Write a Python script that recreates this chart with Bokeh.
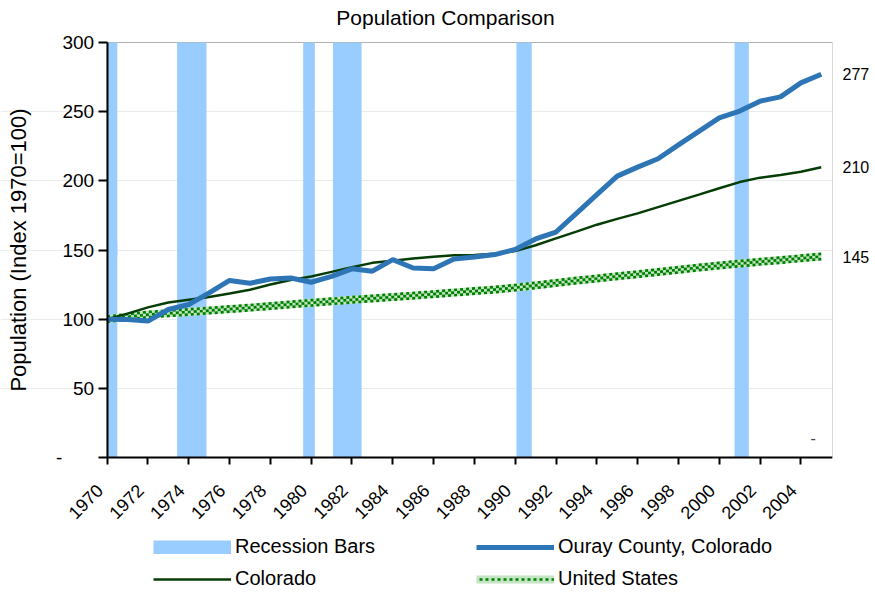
import math
from bokeh.plotting import figure
from bokeh.models import (Range1d, FixedTicker, LinearAxis, Legend, LegendItem,
                          NumeralTickFormatter, Label, BoxAnnotation)
from bokeh.embed import file_html
from bokeh.resources import INLINE

# ---------------- data ----------------
years = list(range(1970, 2006))
ouray = [100, 99.8, 98.6, 107, 110.6, 119, 128, 126, 129, 129.8,
         126.7, 131, 136.4, 134.7, 143, 137, 136.4, 143.5, 145, 146.7,
         150.4, 158, 163, 176.5, 190, 203.4, 209.9, 216, 226, 235.7,
         245.5, 250.4, 257.6, 260.7, 270.8, 277]
colorado = [100, 104, 108.5, 112, 114, 116, 118.5, 121.3, 125, 128.3,
            130.8, 134.2, 137.6, 140.7, 142.3, 143.9, 145.2, 146.2, 146.4, 147.3,
            149.2, 153.4, 158.4, 163.3, 168.3, 172.5, 176.5, 181, 185.5, 190,
            194.6, 199.1, 202.3, 204.2, 206.5, 209.8]
united_states = [100, 101.7, 103.3, 104.2, 105.2, 106.2, 107.3, 108.3, 109.5, 110.7,
                 111.8, 112.9, 114.0, 115.0, 116.0, 117.0, 118.1, 119.2, 120.3, 121.4,
                 122.8, 124.4, 126.2, 127.9, 129.4, 131.0, 132.5, 134.1, 135.7, 137.3,
                 138.8, 140.2, 141.5, 142.7, 144.0, 145.3]
recession_start = [1970.0, 1973.43, 1979.61, 1981.07, 1990.06, 2000.75]
recession_end = [1970.5, 1974.87, 1980.18, 1982.47, 1990.81, 2001.45]
x_tick_years = list(range(1970, 2005, 2))
y_ticks = [0, 50, 100, 150, 200, 250, 300]
end_values = [ouray[-1], colorado[-1], united_states[-1]]
legend_labels = ["Recession Bars", "Ouray County, Colorado", "Colorado", "United States"]
title_text = "Population Comparison"
y_title = "Population (Index 1970=100)"

FONT = "Liberation Sans"
BLUE = "#2E75B6"
DKGREEN = "#063D06"
CHECK = "#008000"
CHECK_LIGHT = "#C4E4C4"
BAR = "#99CCFF"

# ---------------- layout geometry (figure pixels) ----------------
W, H = 872, 590
RIGHT_PANEL = 37
FRAME_W = W - RIGHT_PANEL
PLOT_LEFT, PLOT_TOP, PLOT_BOTTOM = 107, 42, 457     # plot-area edges
X0, X1 = years[0], 2005.55
Y0, Y1 = y_ticks[0], y_ticks[-1]
XU = (X1 - X0) / (FRAME_W - PLOT_LEFT)            # data units per px
YU = (Y1 - Y0) / (PLOT_BOTTOM - PLOT_TOP)
X_LEFT = X0 - PLOT_LEFT * XU
Y_TOP_EXT = Y1 + PLOT_TOP * YU
Y_BOTTOM_EXT = Y0 - (H - PLOT_BOTTOM) * YU


def xpx(px):
    return X_LEFT + px * XU


def ypx(py):
    return Y1 + (PLOT_TOP - py) * YU


p = figure(width=W, height=H, output_backend="svg", toolbar_location=None,
           title=None,
           x_range=Range1d(X_LEFT, X1), y_range=Range1d(Y_BOTTOM_EXT, Y_TOP_EXT),
           min_border_left=0, min_border_top=0, min_border_right=RIGHT_PANEL,
           min_border_bottom=0)
p.outline_line_color = None

# plot-area border (top / right)
p.add_layout(BoxAnnotation(left=X0, right=X1, bottom=Y0, top=Y1,
                           fill_alpha=0, line_color="black", line_width=1,
                           level="underlay"))

# recession bars
p.quad(left=recession_start, right=recession_end,
       bottom=[Y0] * len(recession_start), top=[Y1] * len(recession_start),
       fill_color=BAR, line_color=None)
# legend swatch (hidden inside the first bar, same colour)
r_rec_sw = p.line([recession_start[0], recession_end[0]], [Y1 / 2] * 2,
                  line_width=14, line_color=BAR, line_cap="butt")

# United States: checkered band
us_lo = [v - 1.9 for v in united_states]
us_hi = [v + 1.9 for v in united_states]
r_us1 = p.line(years, united_states, line_width=8, line_color=CHECK_LIGHT)
r_us2 = p.line(years, united_states, line_width=2.7, line_color=CHECK,
               line_dash="3 3", line_dash_offset=3)
p.line(years, us_lo, line_width=2.7, line_color=CHECK, line_dash="3 3")
p.line(years, us_hi, line_width=2.7, line_color=CHECK, line_dash="3 3")

r_co = p.line(years, colorado, line_width=2.5, line_color=DKGREEN)
r_ouray = p.line(years, ouray, line_width=5, line_color=BLUE)

# texts
p.add_layout(Label(x=xpx(337), y=ypx(17), text=title_text, text_font=FONT,
                   text_font_size="21px", text_align="left", text_baseline="middle",
                   text_color="black"))
p.add_layout(Label(x=xpx(18), y=(Y0 + Y1) / 2, text=y_title, text_font=FONT,
                   text_font_size="22px", text_align="center",
                   text_baseline="middle", angle=math.pi / 2, text_color="black"))
p.add_layout(Label(x=2004.6, y=14, text="-", text_font=FONT, text_font_size="16px",
                   text_align="center", text_baseline="middle"))

# axes
p.xaxis.fixed_location = Y0
p.xaxis.bounds = (X0, X1)
p.xaxis.ticker = FixedTicker(ticks=x_tick_years)
p.xaxis.major_label_orientation = math.pi / 4
p.xaxis.major_label_overrides = {t: f"{t}\u00a0\u00a0" for t in x_tick_years}
p.yaxis.fixed_location = X0
p.yaxis.bounds = (Y0, Y1)
p.yaxis.ticker = FixedTicker(ticks=y_ticks)
p.yaxis.major_label_overrides = {0: "-" + "\u00a0" * 6}
for ax in (p.xaxis, p.yaxis):
    ax.axis_line_width = 2
    ax.axis_line_color = "black"
    ax.major_tick_line_width = 2
    ax.major_tick_line_color = "black"
    ax.major_tick_in = 0
    ax.minor_tick_line_color = None
    ax.major_label_text_font = FONT
    ax.major_label_text_color = "black"
p.yaxis.major_label_text_font_size = "19px"
p.xaxis.major_label_text_font_size = "18px"
p.yaxis.major_tick_out = 9
p.yaxis.major_label_standoff = 4
p.xaxis.major_tick_out = 7
p.xaxis.major_label_standoff = 16

right_ax = LinearAxis(ticker=FixedTicker(ticks=end_values),
                      formatter=NumeralTickFormatter(format="0"),
                      axis_line_color=None, major_tick_line_color=None,
                      major_tick_out=0, major_tick_in=0,
                      minor_tick_line_color=None, major_label_standoff=10,
                      major_label_text_font=FONT, major_label_text_font_size="16px",
                      major_label_text_color="black")
p.add_layout(right_ax, "right")

p.xgrid.grid_line_color = None
p.ygrid.ticker = FixedTicker(ticks=y_ticks[1:-1])
p.ygrid.bounds = (X0, X1)
p.ygrid.grid_line_color = "#EBEBEB"
p.ygrid.grid_line_width = 1

legend = Legend(items=[
    LegendItem(label=legend_labels[0], renderers=[r_rec_sw]),
    LegendItem(label=legend_labels[1], renderers=[r_ouray]),
    LegendItem(label=legend_labels[2], renderers=[r_co]),
    LegendItem(label=legend_labels[3], renderers=[r_us1, r_us2]),
], orientation="horizontal", ncols=2, location=(153, 0),
    glyph_width=78, glyph_height=14, label_standoff=4, label_width=232,
    label_height=23, spacing=9, padding=0, margin=0,
    border_line_color=None, background_fill_alpha=0,
    label_text_font=FONT, label_text_font_size="20px", label_text_color="black")
p.add_layout(legend, "center")

open("out.html", "w").write(file_html(p, INLINE))
